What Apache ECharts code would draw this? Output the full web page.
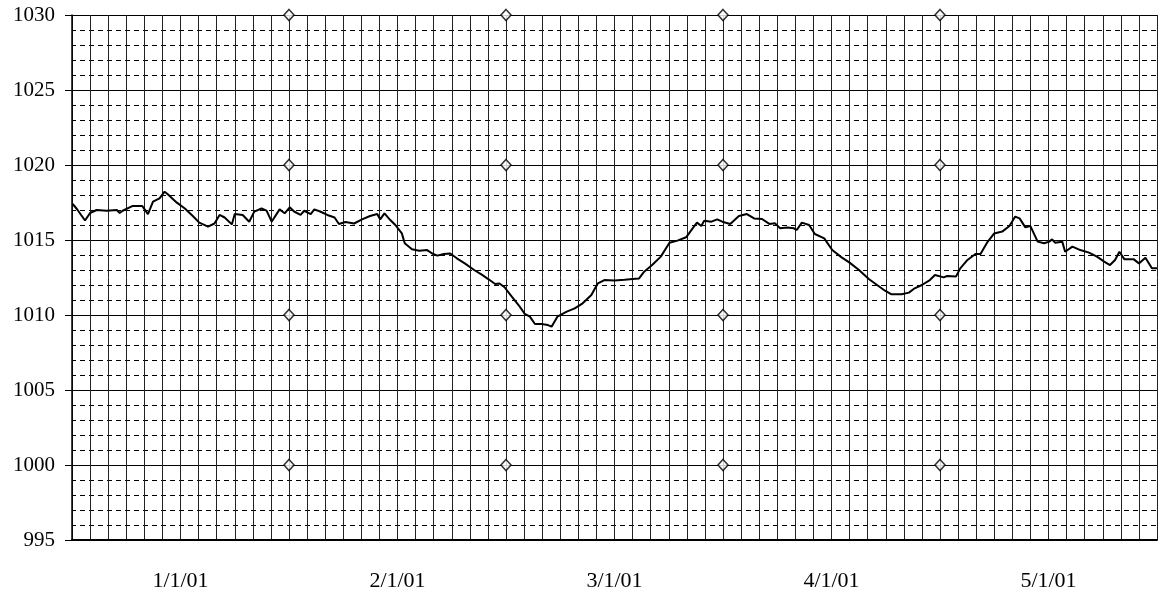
<!DOCTYPE html>
<html>
<head>
<meta charset="utf-8">
<style>
  html, body { margin: 0; padding: 0; background: #fff; }
  #chart { width: 1160px; height: 597px; }
</style>
<script src="https://cdn.jsdelivr.net/npm/echarts@6/dist/echarts.min.js"></script>
</head>
<body>
<div id="chart"></div>
<script>
// x positions in days from the start of the plotted period (30-day month blocks)
const days = [
  0.1, 0.7, 1.8, 2.5, 3.4, 4.8, 6.2, 6.6, 7.0, 8.4, 9.7, 10.5, 11.2, 12.1, 12.8, 13.2, 14.5,
  15.6, 16.7, 17.6, 18.8, 19.7, 20.4, 21.1, 22.1, 22.5, 23.6, 24.5, 25.2, 26.2, 26.9, 27.6,
  28.7, 29.4, 30.1, 30.7, 31.6, 32.1, 33.0, 33.5, 34.3, 35.3, 36.3, 36.9, 37.8, 39.0, 40.1,
  41.2, 42.2, 42.6, 43.2, 44.0, 44.7, 45.6, 46.0, 47.0, 48.0, 49.1, 49.8, 50.5, 51.4, 52.3,
  53.2, 54.3, 55.6, 56.7, 57.6, 58.5, 59.1, 59.8, 60.8, 61.9, 62.6, 63.3, 64.0, 64.9, 65.8,
  66.3, 67.1, 68.4, 69.5, 70.6, 71.8, 72.7, 73.6, 75.0, 76.4, 77.5, 78.4, 79.1, 80.2, 81.4,
  82.6, 83.7, 84.9, 85.8, 86.4, 87.0, 87.4, 88.4, 89.2, 89.9, 91.0, 92.2, 93.3, 94.3, 95.4,
  96.4, 97.2, 97.9, 98.9, 99.8, 100.2, 100.9, 101.9, 102.7, 104.0, 105.1, 106.4, 107.5, 108.8,
  110.2, 111.3, 112.4, 113.3, 114.7, 115.7, 116.5, 117.5, 118.6, 119.3, 120.5, 121.0, 122.2,
  122.8, 123.8, 124.9, 125.6, 126.5, 127.5, 128.6, 129.6, 130.4, 131.0, 131.8, 132.5, 133.5,
  134.4, 135.1, 135.5, 135.9, 136.9, 137.3, 138.3, 139.4, 140.6, 141.7, 142.7, 143.5, 144.2,
  144.8, 145.5, 146.8, 147.5, 148.4, 149.3, 150.0
];
// pressure (hPa)
const pressure = [
  1017.4, 1017.05, 1016.3, 1016.8, 1017.0, 1016.95, 1017.0, 1016.8, 1016.95, 1017.27, 1017.27, 1016.73, 1017.56, 1017.78, 1018.22, 1018.07, 1017.49,
  1017.1, 1016.6, 1016.16, 1015.89, 1016.1, 1016.67, 1016.5, 1016.04, 1016.73, 1016.67, 1016.22, 1016.89, 1017.1, 1016.96, 1016.22,
  1017.04, 1016.78, 1017.18, 1016.9, 1016.67, 1016.95, 1016.73, 1017.04, 1016.9, 1016.67, 1016.5, 1016.07, 1016.2, 1016.1, 1016.38,
  1016.6, 1016.73, 1016.38, 1016.78, 1016.33, 1016.0, 1015.44, 1014.78, 1014.38, 1014.29, 1014.33, 1014.1, 1013.96, 1014.07, 1014.1,
  1013.78, 1013.44, 1013.0, 1012.67, 1012.38, 1012.07, 1012.1, 1011.85, 1011.22, 1010.56, 1010.07, 1009.89, 1009.4, 1009.4, 1009.33,
  1009.22, 1009.89, 1010.22, 1010.44, 1010.78, 1011.33, 1012.11, 1012.33, 1012.3, 1012.35, 1012.4, 1012.44, 1012.89, 1013.33, 1013.89,
  1014.82, 1014.96, 1015.18, 1015.78, 1016.16, 1015.93, 1016.29, 1016.22, 1016.38, 1016.22, 1016.07, 1016.6, 1016.73, 1016.44, 1016.4,
  1016.07, 1016.11, 1015.78, 1015.84, 1015.78, 1015.67, 1016.16, 1016.0, 1015.4, 1015.11, 1014.33, 1013.84, 1013.49, 1013.0,
  1012.38, 1012.0, 1011.62, 1011.38, 1011.38, 1011.49, 1011.78, 1012.0, 1012.33, 1012.67, 1012.51, 1012.6, 1012.56,
  1013.11, 1013.67, 1014.07, 1014.07, 1014.82, 1015.44, 1015.56, 1015.93, 1016.56, 1016.44, 1015.84, 1015.93, 1014.89,
  1014.78, 1014.89, 1015.04, 1014.82, 1014.89, 1014.22, 1014.56, 1014.33, 1014.16, 1013.89, 1013.56, 1013.33, 1013.67,
  1014.22, 1013.71, 1013.71, 1013.44, 1013.82, 1013.11, 1013.11
];
// month labels and where they sit (day position)
const monthLabels = ['1/1/01', '2/1/01', '3/1/01', '4/1/01', '5/1/01'];
const monthLabelDays = [15, 45, 75, 105, 135];
// diamond markers
const markerDays = [30, 60, 90, 120];
const markerLevels = [1000, 1010, 1020, 1030];

const lineData = days.map((d, i) => [d, pressure[i]]);
const markerData = [];
markerDays.forEach(d => markerLevels.forEach(v => markerData.push([d, v])));

const FONT = '"Liberation Serif", "DejaVu Serif", serif';

const chart = echarts.init(document.getElementById('chart'), null, { renderer: 'canvas' });
chart.setOption({
  animation: false,
  backgroundColor: '#fff',
  grid: { left: 72, right: 0, top: 15, bottom: 57, containLabel: false },
  xAxis: {
    type: 'value',
    min: 0,
    max: 150,
    interval: 2.5,
    axisLine: { show: true, onZero: false, lineStyle: { color: '#000', width: 2 } },
    axisTick: { show: false },
    axisLabel: {
      margin: 30,
      color: '#000',
      fontFamily: FONT,
      fontSize: 22,
      formatter: function (v) {
        for (let i = 0; i < monthLabelDays.length; i++) {
          if (Math.abs(v - monthLabelDays[i]) < 0.01) return monthLabels[i];
        }
        return '';
      }
    },
    splitLine: { show: true, lineStyle: { color: '#222', width: 1 } }
  },
  yAxis: {
    type: 'value',
    min: 995,
    max: 1030,
    interval: 5,
    axisLine: { show: true, onZero: false, lineStyle: { color: '#000', width: 1.5 } },
    axisTick: { show: true, length: 7, lineStyle: { color: '#000' } },
    axisLabel: {
      margin: 17, color: '#000', fontFamily: FONT, fontSize: 21,
      formatter: function (v) { return String(v); }
    },
    splitLine: { show: true, lineStyle: { color: '#000', width: 1 } },
    minorTick: { show: false, splitNumber: 5 },
    minorSplitLine: { show: true, lineStyle: { color: '#000', width: 1, type: [5, 4], dashOffset: 1 } }
  },
  series: [
    {
      type: 'line',
      data: lineData,
      showSymbol: false,
      symbol: 'none',
      lineStyle: { color: '#000', width: 2 },
      z: 3
    },
    {
      type: 'scatter',
      data: markerData,
      symbol: 'diamond',
      symbolSize: [10, 11],
      itemStyle: { color: '#fff', borderColor: '#000', borderWidth: 1.6 },
      z: 4
    }
  ]
});
</script>
</body>
</html>
